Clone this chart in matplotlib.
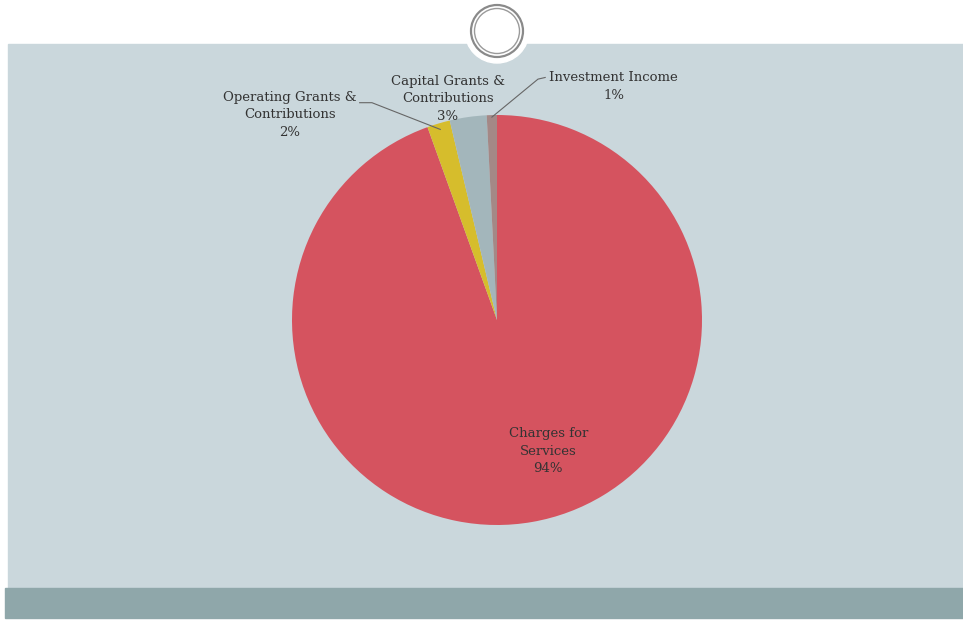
import matplotlib.pyplot as plt
from matplotlib.patches import Rectangle, Circle
import numpy as np

# data
categories = ['Charges for\nServices', 'Operating Grants &\nContributions',
              'Capital Grants &\nContributions', 'Investment Income']
values = [94.4, 1.8, 2.9, 0.8]
colors = ['#d5535f', '#d6bd2c', '#a3b6bb', '#a48886']


def plot():
    W, H = 963, 621
    fig = plt.figure(figsize=(W / 100, H / 100), dpi=100)
    fig.patch.set_facecolor('white')

    # slide background in pixel coords
    bg = fig.add_axes([0, 0, 1, 1])
    bg.set_xlim(0, W)
    bg.set_ylim(H, 0)
    bg.axis('off')
    bg.add_patch(Rectangle((8, 44), W - 8, 545, color='#cad7dc', zorder=0))
    bg.add_patch(Rectangle((5, 588), W - 5, 30, color='#8fa7aa', zorder=1))
    # ring icon on the top edge
    bg.add_patch(Circle((497, 31), 32, color='white', zorder=2))
    bg.add_patch(Circle((497, 31), 26, fill=False, ec='#8a8a8a', lw=1.6, zorder=3))
    bg.add_patch(Circle((497, 31), 22.5, fill=False, ec='#9a9a9a', lw=1.0, zorder=3))

    # pie centred at (497, 320) px, radius 205 px
    cx, cy, r = 497, 320, 205
    ax = fig.add_axes([(cx - r) / W, (H - cy - r) / H, 2 * r / W, 2 * r / H])
    wedges, _ = ax.pie(values, colors=colors, startangle=90, counterclock=False,
                       wedgeprops=dict(linewidth=0))
    ax.set_xlim(-1, 1)
    ax.set_ylim(-1, 1)
    ax.set_aspect('auto')
    ax.axis('off')

    pct = [v / sum(values) * 100 for v in values]
    labels = ['%s\n%.0f%%' % (c, p) for c, p in zip(categories, pct)]
    font = dict(family='DejaVu Serif', fontsize=9.5, color='#333333',
                ha='center', va='center', linespacing=1.45)

    # label positions in pie units
    pos = [(0.25, -0.64), (-1.01, 1.0), (-0.24, 1.08), (0.57, 1.14)]
    for lab, (x, y) in zip(labels, pos):
        ax.text(x, y, lab, clip_on=False, **font)

    def edge_point(w, rr=0.97):
        a = np.deg2rad((w.theta1 + w.theta2) / 2)
        return rr * np.cos(a), rr * np.sin(a)

    # leader lines
    px, py = edge_point(wedges[1])
    ax.plot([-0.67, -0.61, px], [1.06, 1.06, py], color='#666666', lw=0.8,
            clip_on=False)
    px, py = edge_point(wedges[3], 0.99)
    ax.plot([0.235, 0.2, px], [1.183, 1.175, py], color='#666666', lw=0.8,
            clip_on=False)

    plt.savefig('out.png', dpi=100)


if __name__ == '__main__':
    plot()
